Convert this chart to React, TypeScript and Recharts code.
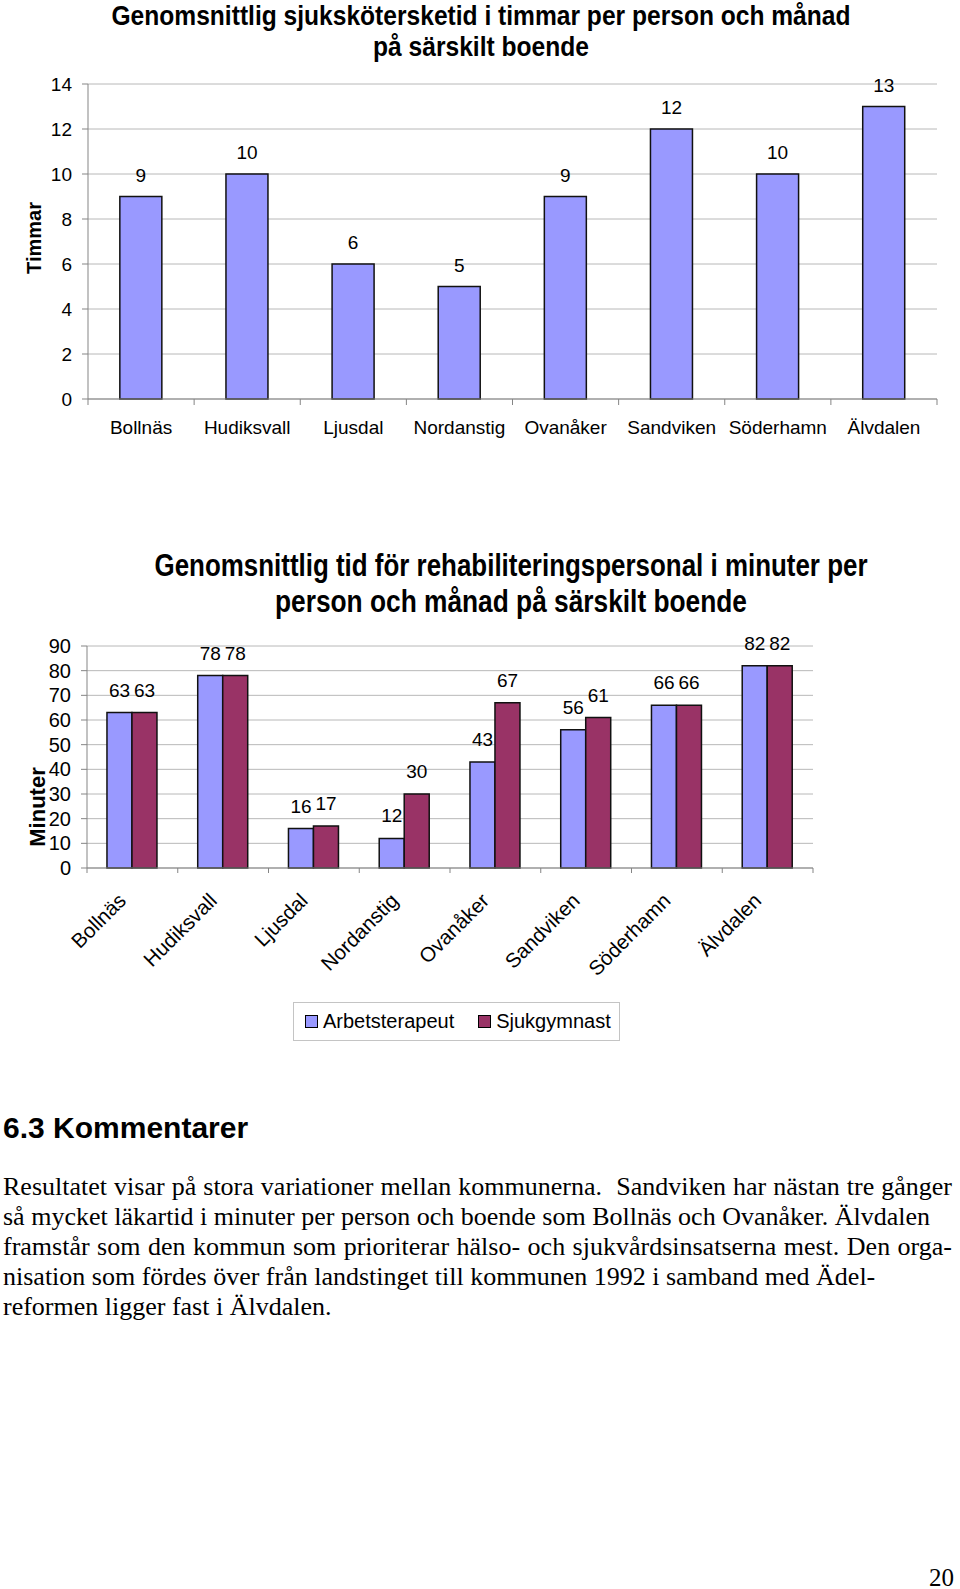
import {
  BarChart,
  Bar,
  XAxis,
  YAxis,
  CartesianGrid,
  LabelList,
  Legend,
} from "recharts";

const kommuner = [
  "Bollnäs",
  "Hudiksvall",
  "Ljusdal",
  "Nordanstig",
  "Ovanåker",
  "Sandviken",
  "Söderhamn",
  "Älvdalen",
];
const sjukskoterskaTimmar = [9, 10, 6, 5, 9, 12, 10, 13];
const arbetsterapeutMinuter = [63, 78, 16, 12, 43, 56, 66, 82];
const sjukgymnastMinuter = [63, 78, 17, 30, 67, 61, 66, 82];
const timmarTicks = [0, 2, 4, 6, 8, 10, 12, 14];
const minuterTicks = [0, 10, 20, 30, 40, 50, 60, 70, 80, 90];

const timmarData = kommuner.map((kommun, i) => ({
  kommun,
  timmar: sjukskoterskaTimmar[i],
}));
const minuterData = kommuner.map((kommun, i) => ({
  kommun,
  arbetsterapeut: arbetsterapeutMinuter[i],
  sjukgymnast: sjukgymnastMinuter[i],
}));

const FONT = "'Liberation Sans', Arial, Helvetica, sans-serif";
const SERIF = "'Liberation Serif', 'Times New Roman', serif";
const GRID = "#b8b8b8";
const AXIS = "#858585";
const BLUE = "#9999ff";
const PLUM = "#993366";

// chart 1 layout
const W1 = 960;
const H1 = 450;
const M1 = { top: 84, right: 23, bottom: 21, left: 0 };
const YW1 = 88;
const band1 = (W1 - M1.left - M1.right - YW1) / kommuner.length;

// chart 2 layout
const TOP2 = 600;
const W2 = 960;
const H2 = 450;
const M2 = { top: 46, right: 147, bottom: 122, left: 0 };
const YW2 = 87;
const band2 = (W2 - M2.left - M2.right - YW2) / kommuner.length;

function Tick1(props: any) {
  const { x, y, payload, index } = props;
  const h = band1 / 2;
  return (
    <g>
      <line x1={x - h} x2={x - h} y1={y - 8} y2={y - 2} stroke={AXIS} />
      {index === kommuner.length - 1 && (
        <line x1={x + h} x2={x + h} y1={y - 8} y2={y - 2} stroke={AXIS} />
      )}
      <text
        x={x}
        y={y + 27}
        textAnchor="middle"
        fontSize={19}
        fontFamily={FONT}
        fill="#000"
      >
        {payload.value}
      </text>
    </g>
  );
}

function Tick2(props: any) {
  const { x, y, payload, index } = props;
  const h = band2 / 2;
  const tx = x - 5;
  const ty = y + 26;
  return (
    <g>
      <line x1={x - h} x2={x - h} y1={y - 8} y2={y - 3} stroke={AXIS} />
      {index === kommuner.length - 1 && (
        <line x1={x + h} x2={x + h} y1={y - 8} y2={y - 3} stroke={AXIS} />
      )}
      <text
        x={tx}
        y={ty}
        transform={`rotate(-45, ${tx}, ${ty})`}
        textAnchor="end"
        fontSize={20.5}
        fontFamily={FONT}
        fill="#000"
      >
        {payload.value}
      </text>
    </g>
  );
}

function LegendBox(props: any) {
  const payload = props.payload || [];
  return (
    <div
      style={{
        boxSizing: "border-box",
        width: 327,
        height: 39,
        border: "1.5px solid #c4c4c4",
        display: "flex",
        alignItems: "center",
        paddingLeft: 11,
        fontFamily: FONT,
        fontSize: 20,
        color: "#000",
        background: "#fff",
      }}
    >
      {payload.map((p: any, i: number) => (
        <span
          key={i}
          style={{ display: "flex", alignItems: "center", marginRight: 24 }}
        >
          <span
            style={{
              display: "inline-block",
              boxSizing: "border-box",
              width: 13,
              height: 13,
              border: "1px solid #000",
              background: p.color,
              marginRight: 5,
            }}
          />
          {p.value}
        </span>
      ))}
    </div>
  );
}

const bodyLines = [
  "Resultatet visar på stora variationer mellan kommunerna.\u00a0 Sandviken har nästan tre gånger",
  "så mycket läkartid i minuter per person och boende som Bollnäs och Ovanåker. Älvdalen",
  "framstår som den kommun som prioriterar hälso- och sjukvårdsinsatserna mest. Den orga-",
  "nisation som fördes över från landstinget till kommunen 1992 i samband med Ädel-",
  "reformen ligger fast i Älvdalen.",
];
// lines that run to the right margin in the original page
const justifiedLines = [0, 2];

export default function App() {
  return (
    <div
      style={{
        position: "absolute",
        left: 0,
        top: 0,
        width: 960,
        height: 1589,
        background: "#fff",
        overflow: "hidden",
      }}
    >
      <div style={{ position: "absolute", left: 0, top: 0 }}>
        <BarChart
          width={W1}
          height={H1}
          data={timmarData}
          margin={M1}
          barCategoryGap="30%"
        >
          <CartesianGrid horizontal vertical={false} stroke={GRID} />
          <XAxis
            dataKey="kommun"
            height={30}
            interval={0}
            tickSize={6}
            tickMargin={2}
            tickLine={false}
            axisLine={{ stroke: AXIS }}
            tick={<Tick1 />}
          />
          <YAxis
            width={YW1}
            domain={[0, 14]}
            ticks={timmarTicks}
            interval={0}
            tickSize={6}
            tickMargin={10}
            axisLine={{ stroke: AXIS }}
            tickLine={{ stroke: AXIS }}
            tick={{ fontSize: 19, fill: "#000", fontFamily: FONT }}
            label={{
              content: () => (
                <text
                  transform="translate(33.5, 238) rotate(-90)"
                  textAnchor="middle"
                  dominantBaseline="central"
                  fontSize={20}
                  fontWeight="bold"
                  fontFamily={FONT}
                  fill="#000"
                >
                  Timmar
                </text>
              ),
            }}
          />
          <YAxis
            yAxisId="right"
            orientation="right"
            width={0}
            domain={[0, 14]}
            tick={false}
            tickLine={false}
            axisLine={{ stroke: "#a0a0a0" }}
          />
          <Bar
            dataKey="timmar"
            fill={BLUE}
            stroke="#111"
            strokeWidth={1.5}
            isAnimationActive={false}
          >
            <LabelList
              dataKey="timmar"
              position="top"
              offset={15}
              fontSize={19}
              fontFamily={FONT}
              fill="#000"
            />
          </Bar>
        </BarChart>
      </div>

      <div style={{ position: "absolute", left: 0, top: TOP2 }}>
        <BarChart
          width={W2}
          height={H2}
          data={minuterData}
          margin={M2}
          barCategoryGap="22%"
          barGap={0}
        >
          <CartesianGrid horizontal vertical={false} stroke={GRID} />
          <XAxis
            dataKey="kommun"
            height={60}
            interval={0}
            tickSize={6}
            tickMargin={2}
            tickLine={false}
            axisLine={{ stroke: AXIS }}
            tick={<Tick2 />}
          />
          <YAxis
            width={YW2}
            domain={[0, 90]}
            ticks={minuterTicks}
            interval={0}
            tickSize={6}
            tickMargin={10}
            axisLine={{ stroke: AXIS }}
            tickLine={{ stroke: AXIS }}
            tick={{ fontSize: 20, fill: "#000", fontFamily: FONT }}
            label={{
              content: () => (
                <text
                  transform="translate(37.5, 207) rotate(-90)"
                  textAnchor="middle"
                  dominantBaseline="central"
                  fontSize={22}
                  fontWeight="bold"
                  fontFamily={FONT}
                  fill="#000"
                >
                  Minuter
                </text>
              ),
            }}
          />
          <YAxis
            yAxisId="right"
            orientation="right"
            width={0}
            domain={[0, 90]}
            tick={false}
            tickLine={false}
            axisLine={{ stroke: "#a0a0a0" }}
          />
          <Legend
            layout="horizontal"
            verticalAlign="middle"
            align="center"
            content={<LegendBox />}
            wrapperStyle={{ left: 293, top: 402, width: 327, height: 39 }}
          />
          <Bar
            dataKey="arbetsterapeut"
            name="Arbetsterapeut"
            fill={BLUE}
            stroke="#111"
            strokeWidth={1.5}
            isAnimationActive={false}
          >
            <LabelList
              dataKey="arbetsterapeut"
              position="top"
              offset={16}
              fontSize={19}
              fontFamily={FONT}
              fill="#000"
            />
          </Bar>
          <Bar
            dataKey="sjukgymnast"
            name="Sjukgymnast"
            fill={PLUM}
            stroke="#111"
            strokeWidth={1.5}
            isAnimationActive={false}
          >
            <LabelList
              dataKey="sjukgymnast"
              position="top"
              offset={16}
              fontSize={19}
              fontFamily={FONT}
              fill="#000"
            />
          </Bar>
        </BarChart>
      </div>

      <svg
        width={960}
        height={1589}
        style={{ position: "absolute", left: 0, top: 0, pointerEvents: "none" }}
      >
        <g
          fontFamily="'Liberation Sans Narrow', 'Liberation Sans', Arial, sans-serif"
          fontWeight="bold"
          fill="#000"
          textAnchor="middle"
        >
          <text x={481} y={25} fontSize={27} textLength={739} lengthAdjust="spacingAndGlyphs">
            Genomsnittlig sjukskötersketid i timmar per person och månad
          </text>
          <text x={481} y={56} fontSize={27} textLength={216} lengthAdjust="spacingAndGlyphs">
            på särskilt boende
          </text>
          <text x={511} y={576} fontSize={31} textLength={713} lengthAdjust="spacingAndGlyphs">
            Genomsnittlig tid för rehabiliteringspersonal i minuter per
          </text>
          <text x={511} y={612} fontSize={31} textLength={472} lengthAdjust="spacingAndGlyphs">
            person och månad på särskilt boende
          </text>
        </g>
        <text x={3} y={1138} fontSize={30} fontWeight="bold" fontFamily={FONT} fill="#000">
          6.3 Kommentarer
        </text>
        <text x={954} y={1586} fontSize={25} fontFamily={SERIF} textAnchor="end" fill="#000">
          20
        </text>
      </svg>

      {bodyLines.map((line, i) => {
        const just = justifiedLines.includes(i);
        return (
          <div
            key={i}
            style={{
              position: "absolute",
              left: 3,
              top: 1172 + i * 30,
              width: just ? 949 : "auto",
              fontFamily: SERIF,
              fontSize: 26,
              lineHeight: "30px",
              whiteSpace: "nowrap",
              textAlign: just ? "justify" : "left",
              textAlignLast: just ? "justify" : "auto",
              color: "#000",
            }}
          >
            {line}
          </div>
        );
      })}
    </div>
  );
}
